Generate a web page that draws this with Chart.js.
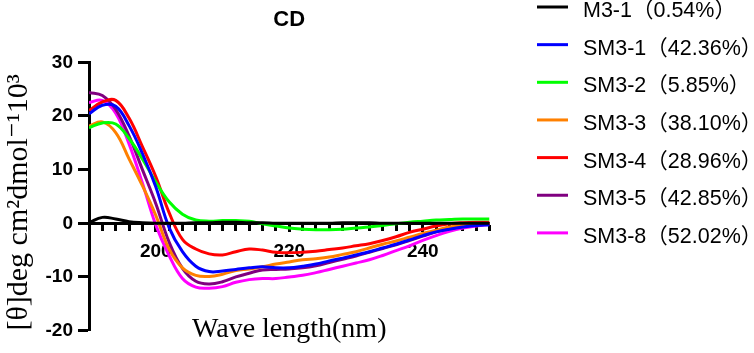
<!DOCTYPE html>
<html>
<head>
<meta charset="utf-8">
<script src="https://cdn.jsdelivr.net/npm/chart.js@4"></script>
<style>
  html, body { margin: 0; padding: 0; background: #fff; }
  #wrap { width: 754px; height: 353px; position: relative; }
</style>
</head>
<body>
<div id="wrap"><canvas id="cd"></canvas></div>
<script>
// wavelength (nm), 2 nm steps
const waves = [190, 192, 194, 196, 198, 200, 202, 204, 206, 208, 210, 212, 214, 216, 218, 220,
    222, 224, 226, 228, 230, 232, 234, 236, 238, 240, 242, 244, 246, 248, 250];

const seriesNames = ["M3-1（0.54%）", "SM3-1（42.36%）", "SM3-2（5.85%）", "SM3-3（38.10%）",
    "SM3-4（28.96%）", "SM3-5（42.85%）", "SM3-8（52.02%）"];
const seriesColors = ["#000000", "#0000ff", "#00ff00", "#ff8000", "#ff0000", "#800080", "#ff00ff"];

const m31 = [0.1, 1.1, 0.8, 0.3, 0.1, 0.0, 0.0, 0.0, 0.1, 0.1, 0.2, 0.2, 0.1, 0.1, 0.0, 0.0,
    0.0, 0.0, 0.0, 0.1, 0.1, 0.1, 0.0, 0.0, 0.0, 0.0, 0.0, 0.0, 0.0, 0.0, 0.0];
const sm31 = [20.4, 22.0, 21.8, 18.2, 13.0, 6.8, -0.8, -5.3, -8.0, -9.0, -8.9, -8.6, -8.3, -8.1, -8.3, -8.3,
    -8.0, -7.6, -7.0, -6.5, -5.9, -5.3, -4.6, -3.9, -3.1, -2.3, -1.6, -1.1, -0.7, -0.4, -0.3];
const sm32 = [17.8, 18.7, 18.5, 15.8, 12.0, 7.7, 4.0, 1.7, 0.6, 0.4, 0.5, 0.5, 0.4, -0.1, -0.5, -0.9,
    -1.1, -1.2, -1.2, -1.1, -0.9, -0.7, -0.4, -0.1, 0.2, 0.4, 0.6, 0.7, 0.8, 0.8, 0.8];
const sm33 = [18.1, 18.9, 16.9, 12.0, 7.0, 1.5, -4.8, -8.3, -9.7, -9.9, -9.5, -8.8, -8.5, -8.1, -7.6, -7.2,
    -6.8, -6.6, -6.3, -5.8, -5.3, -4.6, -3.9, -3.3, -2.6, -1.9, -1.3, -0.7, -0.3, -0.1, 0.0];
const sm34 = [21.0, 22.6, 22.9, 19.6, 14.3, 8.7, 2.0, -3.0, -4.8, -5.7, -5.9, -5.3, -4.8, -5.0, -5.4, -5.5,
    -5.4, -5.2, -4.9, -4.6, -4.2, -3.8, -3.2, -2.5, -1.7, -1.1, -0.5, -0.1, 0.1, 0.2, 0.2];
const sm35 = [24.4, 23.8, 21.2, 16.3, 10.0, 3.7, -3.5, -8.4, -10.8, -11.3, -10.9, -10.0, -9.3, -8.7, -8.6, -8.5,
    -8.3, -7.9, -7.3, -6.7, -6.1, -5.4, -4.7, -4.0, -3.2, -2.4, -1.6, -1.0, -0.6, -0.3, -0.2];
const sm38 = [22.5, 22.9, 20.5, 14.8, 7.5, -0.3, -6.0, -10.3, -11.9, -12.1, -11.8, -11.0, -10.5, -10.3, -10.3, -10.0,
    -9.7, -9.2, -8.6, -8.0, -7.4, -6.8, -6.0, -5.1, -4.2, -3.2, -2.3, -1.5, -0.9, -0.5, -0.2];

const seriesValues = [m31, sm31, sm32, sm33, sm34, sm35, sm38];

const xMajorTicks = [200, 220, 240];
const yTitle = "[θ]deg cm²dmol⁻¹10³";
const xTitle = "Wave length(nm)";

const sansFamily = "'Liberation Sans', Arial, 'Noto Sans CJK SC', sans-serif";
const serifFamily = "'Liberation Serif', 'Times New Roman', 'DejaVu Serif', serif";

// legend drawn at the right, outside the plot
const sideLegend = {
    id: "sideLegend",
    afterDraw(chart, args, opts) {
        const { ctx } = chart;
        ctx.save();
        ctx.font = opts.font;
        ctx.textBaseline = "middle";
        ctx.textAlign = "left";
        chart.data.datasets.forEach((ds, i) => {
            const y = opts.top + i * opts.rowGap;
            ctx.strokeStyle = ds.borderColor;
            ctx.lineWidth = 3;
            ctx.beginPath();
            ctx.moveTo(opts.lineX, y - 4);
            ctx.lineTo(opts.lineX + opts.lineLen, y - 4);
            ctx.stroke();
            ctx.fillStyle = "#000";
            ctx.fillText(ds.label, opts.textX, y);
        });
        ctx.restore();
    },
};

Chart.defaults.color = "#000";

const datasets = seriesValues.map((vals, i) => ({
    label: seriesNames[i],
    data: waves.map((w, j) => ({ x: w, y: vals[j] })),
    borderColor: seriesColors[i],
    backgroundColor: seriesColors[i],
    borderWidth: 3,
    pointRadius: 0,
    tension: 0.4,
    fill: false,
}));

new Chart(document.getElementById("cd"), {
    type: "line",
    data: { datasets },
    plugins: [sideLegend],
    options: {
        responsive: true,
        maintainAspectRatio: false,
        animation: false,
        layout: { padding: { left: 0, right: 264.5, top: 0, bottom: 22.4 } },
        plugins: {
            legend: { display: false },
            tooltip: { enabled: false },
            title: {
                display: true,
                text: "CD",
                fullSize: false,
                font: { family: sansFamily, size: 22, weight: "bold" },
                padding: { top: 6.8, bottom: 29.1 },
            },
            sideLegend: {
                font: "21.5px " + sansFamily,
                top: 11,
                rowGap: 37.65,
                lineX: 537,
                lineLen: 31,
                textX: 583,
            },
        },
        scales: {
            // minor ticks every 2 nm, labels only at 200 / 220 / 240
            x: {
                type: "linear",
                position: { y: 0 },
                min: 190,
                max: 250,
                grid: { drawOnChartArea: false, tickLength: 6, tickWidth: 3, tickColor: "#000" },
                border: { display: true, width: 3, color: "#000" },
                ticks: {
                    stepSize: 2,
                    autoSkip: false,
                    maxRotation: 0,
                    padding: 10.8,
                    callback: (v) => (xMajorTicks.includes(v) ? String(v) : ""),
                    font: { family: sansFamily, size: 19, weight: "bold" },
                },
                title: {
                    display: true,
                    text: xTitle,
                    font: { family: serifFamily, size: 28 },
                    padding: { top: 39.5, bottom: 0 },
                },
            },
            // longer major ticks
            xMajor: {
                type: "linear",
                axis: "x",
                position: { y: 0 },
                min: 190,
                max: 250,
                afterBuildTicks: (scale) => {
                    scale.ticks = xMajorTicks.map((v) => ({ value: v }));
                },
                ticks: { autoSkip: false, maxRotation: 0, callback: () => "" },
                grid: { drawOnChartArea: false, tickLength: 9, tickWidth: 3, tickColor: "#000" },
                border: { display: false },
            },
            y: {
                type: "linear",
                position: "left",
                min: -20,
                max: 30,
                afterFit: (scale) => {
                    scale.width = 89;
                },
                ticks: {
                    stepSize: 10,
                    padding: 5,
                    font: { family: sansFamily, size: 19, weight: "bold" },
                },
                grid: { drawOnChartArea: false, tickLength: 11, tickWidth: 3, tickColor: "#000" },
                border: { display: true, width: 3, color: "#000" },
                title: {
                    display: true,
                    text: yTitle,
                    align: "start",
                    font: { family: serifFamily, size: 30 },
                    padding: { top: 1, bottom: 0 },
                },
            },
        },
    },
});
</script>
</body>
</html>
